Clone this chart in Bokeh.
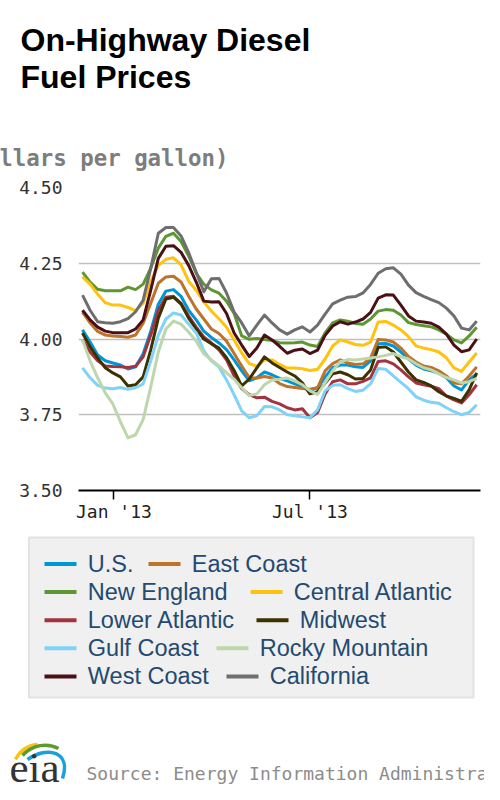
import pandas as pd
from bokeh.plotting import figure
from bokeh.models import (Range1d, FixedTicker, ColumnDataSource, Plot,
                          NumeralTickFormatter, DatetimeTickFormatter)
from bokeh.layouts import column
from bokeh.embed import file_html
from bokeh.resources import INLINE
from bokeh.core.properties import value

# ---------------- data (weekly, $/gallon) ----------------
weeks = pd.date_range("2012-12-03", periods=53, freq="7D")

names = ["U.S.", "East Coast", "New England", "Central Atlantic",
         "Lower Atlantic", "Midwest", "Gulf Coast", "Rocky Mountain",
         "West Coast", "California"]
colors = ["#0096d6", "#bd732a", "#5d9732", "#ffc20e", "#a33340",
          "#3d3100", "#7fd3f8", "#bdd6ab", "#4a1018", "#6e6e6e"]

us = [4.030, 3.990, 3.947, 3.928, 3.921, 3.914, 3.901, 3.908, 3.951, 4.026,
      4.115, 4.158, 4.163, 4.141, 4.095, 4.063, 4.026, 4.005, 3.987, 3.965,
      3.931, 3.895, 3.862, 3.872, 3.891, 3.882, 3.870, 3.862, 3.852, 3.842,
      3.831, 3.839, 3.875, 3.905, 3.914, 3.914, 3.908, 3.906, 3.928, 3.984,
      3.985, 3.977, 3.957, 3.934, 3.914, 3.901, 3.895, 3.887, 3.872, 3.845,
      3.832, 3.865, 3.885]
east_coast = [4.089, 4.053, 4.025, 4.013, 4.010, 4.008, 4.006, 4.013, 4.052, 4.118,
              4.184, 4.205, 4.207, 4.188, 4.141, 4.099, 4.066, 4.033, 4.018, 3.993,
              3.952, 3.911, 3.872, 3.871, 3.876, 3.871, 3.853, 3.843, 3.840, 3.837,
              3.834, 3.839, 3.895, 3.919, 3.931, 3.921, 3.916, 3.918, 3.937, 3.998,
              3.997, 3.990, 3.970, 3.942, 3.924, 3.911, 3.906, 3.895, 3.878, 3.855,
              3.852, 3.878, 3.908]
new_england = [4.221, 4.188, 4.164, 4.159, 4.159, 4.159, 4.171, 4.163, 4.181, 4.234,
               4.300, 4.339, 4.349, 4.322, 4.274, 4.217, 4.181, 4.162, 4.151, 4.125,
               4.084, 4.010, 3.999, 4.002, 3.998, 3.995, 3.988, 3.987, 3.988, 3.990,
               3.980, 3.975, 4.020, 4.053, 4.063, 4.059, 4.051, 4.049, 4.066, 4.092,
               4.097, 4.095, 4.079, 4.054, 4.048, 4.044, 4.040, 4.030, 4.016, 3.997,
               3.987, 4.010, 4.039]
central_atlantic = [4.205, 4.181, 4.148, 4.120, 4.112, 4.112, 4.104, 4.094, 4.118, 4.190,
                    4.243, 4.263, 4.268, 4.245, 4.191, 4.160, 4.123, 4.092, 4.067, 4.039,
                    3.997, 3.954, 3.919, 3.910, 3.931, 3.931, 3.916, 3.904, 3.904, 3.902,
                    3.896, 3.900, 3.934, 3.977, 3.997, 3.990, 3.982, 3.979, 3.990, 4.056,
                    4.058, 4.046, 4.030, 4.008, 3.977, 3.970, 3.965, 3.957, 3.938, 3.905,
                    3.893, 3.924, 3.954]
lower_atlantic = [3.997, 3.957, 3.928, 3.911, 3.909, 3.908, 3.906, 3.910, 3.941, 4.013,
                  4.095, 4.138, 4.141, 4.118, 4.076, 4.039, 4.007, 3.987, 3.964, 3.931,
                  3.878, 3.836, 3.816, 3.806, 3.808, 3.794, 3.786, 3.773, 3.766, 3.770,
                  3.740, 3.757, 3.819, 3.859, 3.865, 3.852, 3.852, 3.860, 3.872, 3.926,
                  3.928, 3.918, 3.898, 3.875, 3.855, 3.849, 3.844, 3.836, 3.812, 3.799,
                  3.789, 3.816, 3.849]
midwest = [4.020, 3.974, 3.938, 3.905, 3.888, 3.875, 3.845, 3.849, 3.875, 3.964,
           4.069, 4.132, 4.138, 4.115, 4.069, 4.033, 4.000, 3.984, 3.970, 3.938,
           3.896, 3.845, 3.868, 3.905, 3.941, 3.921, 3.906, 3.891, 3.878, 3.855,
           3.819, 3.826, 3.854, 3.885, 3.891, 3.882, 3.868, 3.870, 3.898, 3.972,
           3.974, 3.957, 3.924, 3.891, 3.865, 3.857, 3.845, 3.826, 3.812, 3.804,
           3.794, 3.832, 3.888]
gulf_coast = [3.905, 3.872, 3.847, 3.838, 3.836, 3.840, 3.834, 3.839, 3.852, 3.927,
              4.013, 4.066, 4.086, 4.079, 4.049, 4.020, 3.961, 3.928, 3.908, 3.865,
              3.816, 3.763, 3.740, 3.747, 3.777, 3.776, 3.766, 3.750, 3.747, 3.743,
              3.740, 3.766, 3.829, 3.847, 3.849, 3.836, 3.827, 3.831, 3.852, 3.903,
              3.900, 3.878, 3.857, 3.836, 3.809, 3.798, 3.791, 3.788, 3.773, 3.760,
              3.750, 3.758, 3.783]
rocky_mountain = [3.997, 3.928, 3.872, 3.822, 3.786, 3.727, 3.674, 3.684, 3.734, 3.842,
                  3.957, 4.033, 4.059, 4.049, 4.023, 3.993, 3.951, 3.931, 3.911, 3.888,
                  3.867, 3.839, 3.813, 3.819, 3.849, 3.865, 3.867, 3.871, 3.862, 3.849,
                  3.829, 3.817, 3.855, 3.895, 3.925, 3.932, 3.931, 3.934, 3.937, 3.941,
                  3.946, 3.952, 3.942, 3.934, 3.918, 3.905, 3.898, 3.885, 3.873, 3.865,
                  3.855, 3.859, 3.870]
west_coast = [4.095, 4.063, 4.039, 4.026, 4.021, 4.021, 4.021, 4.033, 4.063, 4.161,
              4.266, 4.306, 4.308, 4.286, 4.243, 4.188, 4.125, 4.122, 4.123, 4.084,
              4.020, 3.980, 3.942, 3.970, 4.013, 3.997, 3.976, 3.953, 3.963, 3.967,
              3.952, 3.963, 4.012, 4.043, 4.057, 4.049, 4.056, 4.066, 4.088, 4.135,
              4.146, 4.145, 4.112, 4.076, 4.059, 4.056, 4.052, 4.039, 4.016, 3.980,
              3.958, 3.964, 4.000]
california = [4.145, 4.095, 4.057, 4.054, 4.052, 4.057, 4.067, 4.090, 4.128, 4.233,
              4.349, 4.368, 4.368, 4.340, 4.285, 4.220, 4.156, 4.199, 4.200, 4.152,
              4.089, 4.053, 4.010, 4.046, 4.079, 4.053, 4.030, 4.016, 4.030, 4.040,
              4.023, 4.046, 4.082, 4.116, 4.128, 4.138, 4.140, 4.152, 4.180, 4.217,
              4.232, 4.235, 4.214, 4.178, 4.153, 4.141, 4.130, 4.120, 4.102, 4.076,
              4.036, 4.030, 4.059]

series = [us, east_coast, new_england, central_atlantic, lower_atlantic,
          midwest, gulf_coast, rocky_mountain, west_coast, california]

y_ticks = [3.50, 3.75, 4.00, 4.25, 4.50]
x_ticks = [pd.Timestamp("2013-01-01"), pd.Timestamp("2013-07-01")]

# ---------------- styling constants ----------------
W = 484
MONO = "DejaVu Sans Mono"
SANS = "Liberation Sans"
HAS_FRAME_ALIGN = "frame_align" in Plot.properties()


def no_align(f):
    if HAS_FRAME_ALIGN:
        f.frame_align = False
    return f


def blank(height):
    f = figure(width=W, height=height, x_range=Range1d(0, W),
               y_range=Range1d(height, 0), output_backend="svg",
               toolbar_location=None, x_axis_location=None,
               y_axis_location=None, min_border=0)
    f.grid.visible = False
    f.outline_line_color = None
    return no_align(f)


# ---------------- header ----------------
HEAD_H = 173
head = blank(HEAD_H)
head.text(x=[20, 20], y=[39.5, 76], text=["On-Highway Diesel", "Fuel Prices"],
          text_font=value(SANS), text_font_style="bold",
          text_font_size="32px", text_color="#000000",
          text_baseline="middle")
head.text(x=[228], y=[157], text=["(dollars per gallon)"],
          text_font=value(MONO), text_font_style="bold",
          text_font_size="22.4px", text_color="#7d7d7d",
          text_align="right", text_baseline="middle")

# ---------------- main chart ----------------
src = ColumnDataSource(dict(date=weeks, **{f"s{i}": s for i, s in enumerate(series)}))
x0 = weeks[0] - pd.Timedelta(days=3.7)
x1 = weeks[0] + pd.Timedelta(days=367.5)
MAIN_H = 357
main = figure(width=W, height=MAIN_H, x_axis_type="datetime",
              x_range=Range1d(x0, x1), y_range=Range1d(3.5, 4.5),
              output_backend="svg", toolbar_location=None,
              min_border_left=78, min_border_right=4,
              min_border_top=14, min_border_bottom=40)
no_align(main)
main.outline_line_color = None
main.xgrid.visible = False
main.ygrid.ticker = FixedTicker(ticks=y_ticks)
main.ygrid.grid_line_color = "#c0c0c0"
main.ygrid.grid_line_width = 1.7

for i, c in enumerate(colors):
    main.line(x="date", y=f"s{i}", source=src, line_color=c,
              line_width=3, line_join="round")

ya = main.yaxis[0]
ya.ticker = FixedTicker(ticks=y_ticks)
ya.formatter = NumeralTickFormatter(format="0.00")
ya.axis_line_color = None
ya.major_tick_line_color = None
ya.major_tick_out = 0
ya.major_tick_in = 0
ya.minor_tick_line_color = None
ya.major_label_standoff = 16
ya.major_label_text_font = MONO
ya.major_label_text_font_size = "18px"
ya.major_label_text_color = "#333333"

xa = main.xaxis[0]
xa.ticker = FixedTicker(ticks=[t.value // 10**6 for t in x_ticks])
fmt = "%b '%y"
xa.formatter = DatetimeTickFormatter(years=fmt, months=fmt, days=fmt,
                                     hours=fmt, minutes=fmt, seconds=fmt)
xa.axis_line_color = "#000000"
xa.axis_line_width = 2
xa.major_tick_out = 9
xa.major_tick_in = 0
xa.major_tick_line_width = 1.5
xa.major_tick_line_color = "#000000"
xa.minor_tick_line_color = None
xa.major_label_standoff = 1
xa.major_label_text_font = MONO
xa.major_label_text_font_size = "18px"
xa.major_label_text_color = "#222222"

# ---------------- legend + footer ----------------
LEG_H = 784 - HEAD_H - MAIN_H
leg = blank(LEG_H)
leg.quad(left=[28.5], right=[473], top=[7], bottom=[167],
         fill_color="#f0f0f0", line_color="#e2e2e2", line_width=2)

row_y = [33.5 + 28.1 * r for r in range(5)]
col2_x = [148, 250, 256, 216, 226]
lx, ly, tx = [], [], []
for i in range(len(names)):
    r = i // 2
    start = 44 if i % 2 == 0 else col2_x[r]
    lx.append(start)
    ly.append(row_y[r])
    tx.append(start + 43.3)
lsrc = ColumnDataSource(dict(x0=lx, x1=[v + 32 for v in lx], y=ly, tx=tx,
                             name=names, color=colors))
leg.segment(x0="x0", y0="y", x1="x1", y1="y", line_color="color",
            line_width=4, source=lsrc)
leg.text(x="tx", y="y", text="name", source=lsrc, text_font=value(SANS),
         text_font_size="23.5px", text_color="#244a70",
         text_baseline="middle")

leg.text(x=[86], y=[243], text=["Source: Energy Information Administration"],
         text_font=value(MONO), text_font_size="18px", text_color="#8c8c8c",
         text_baseline="middle")

# eia logo
leg.bezier(x0=[15], y0=[229], cx0=[20], cy0=[219], cx1=[27], cy1=[215],
           x1=[37], y1=[214], line_color="#f6c31a", line_width=3.5)
leg.bezier(x0=[22], y0=[225], cx0=[32], cy0=[214], cx1=[47], cy1=[212],
           x1=[58], y1=[218], line_color="#5b9a2f", line_width=3.5)
leg.bezier(x0=[27], y0=[229], cx0=[47], cy0=[215], cx1=[71], cy1=[221],
           x1=[62], y1=[248], line_color="#1aa0dc", line_width=3.5)
leg.text(x=[9], y=[237], text=["eia"], text_font=value("Liberation Serif"),
         text_font_size="43px", text_color="#333333",
         text_baseline="middle")

layout = column(head, main, leg, spacing=0)
open("out.html", "w").write(file_html(layout, INLINE))
